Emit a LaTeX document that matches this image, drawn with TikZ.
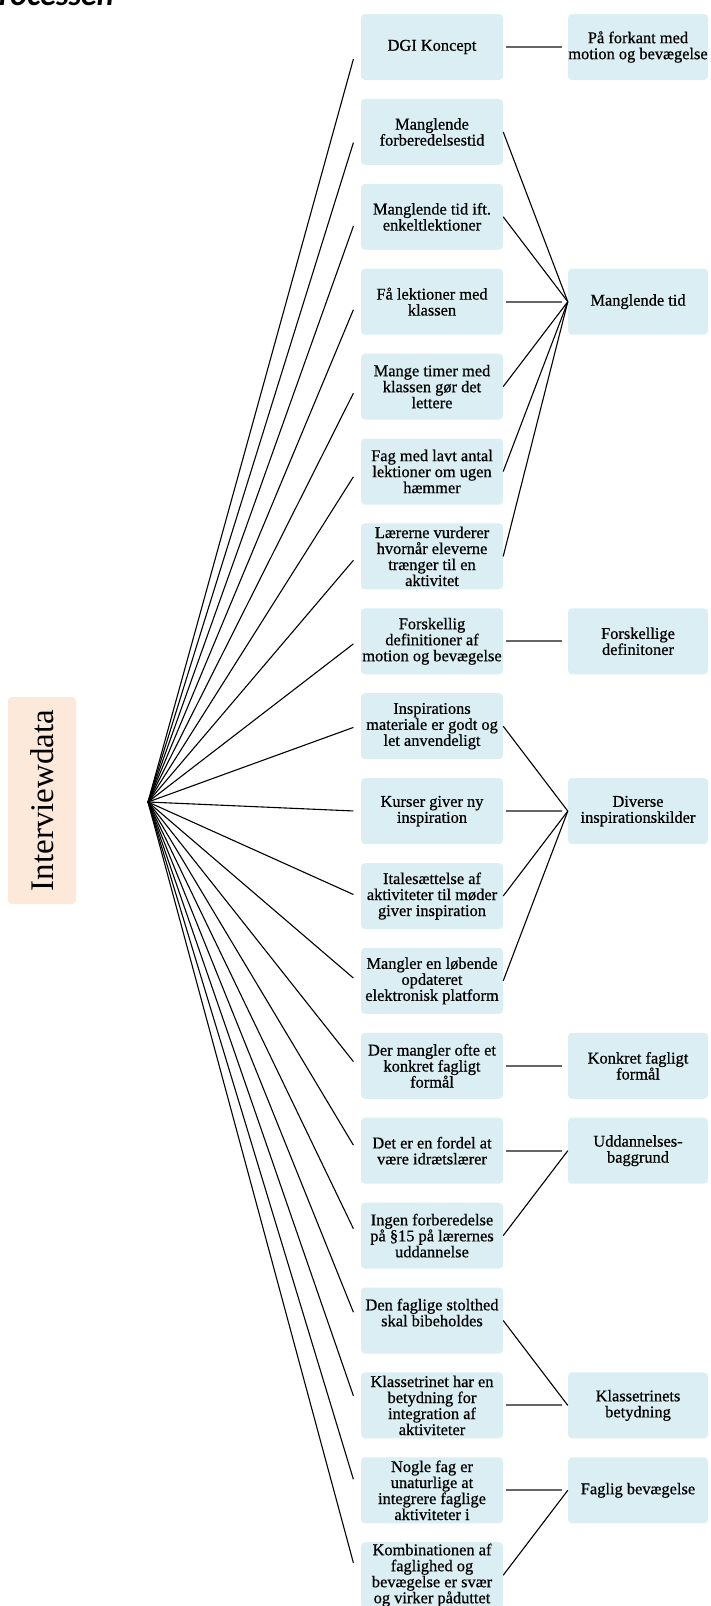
\documentclass[tikz,border=0pt]{standalone}
\usepackage{fontspec}
\setmainfont{Liberation Serif}
\newfontfamily\boxfont{Liberation Serif}[FakeBold=0.6]
\newfontfamily\titlefont{Carlito}
\usetikzlibrary{calc}
\definecolor{boxblue}{HTML}{DAEEF3}
\definecolor{boxpeach}{HTML}{FDE9D9}
\begin{document}
\begin{tikzpicture}[x=1pt,y=-1pt,
  cbox/.style={fill=boxblue, rounded corners=4pt, minimum width=142pt, minimum height=66pt,
    inner sep=0pt, align=center, font=\boxfont\fontsize{16.4}{16}\selectfont},
  tbox/.style={cbox, minimum width=140pt},
  fanline/.style={line width=1.1pt, black},
  hline/.style={line width=2pt, black!60, shorten <=3pt, shorten >=6pt},
  rootline/.style={line width=1.1pt, black}]
\useasboundingbox (0,0) rectangle (710,1606);

% title (cut off at the top edge, as in the reference)
\node[anchor=base west, inner sep=0pt, font=\titlefont\bfseries\itshape\fontsize{32}{34}\selectfont] (title) at (-1,5.5) {rocessen};

% root box
\node[fill=boxpeach, rounded corners=4pt, rotate=90, minimum width=207pt, minimum height=68pt,
  inner sep=0pt, font=\fontsize{33}{36}\selectfont] (iv) at (42,800.5) {Interviewdata};
\coordinate (root) at (148,802);

% first column
\node[cbox] (b1)  at (432, 47+0*84.9)  {DGI Koncept};
\node[cbox] (b2)  at (432, 47+1*84.9)  {Manglende\\forberedelsestid};
\node[cbox] (b3)  at (432, 47+2*84.9)  {Manglende tid ift.\\enkeltlektioner};
\node[cbox] (b4)  at (432, 47+3*84.9)  {Få lektioner med\\klassen};
\node[cbox] (b5)  at (432, 47+4*84.9)  {Mange timer med\\klassen gør det\\lettere};
\node[cbox] (b6)  at (432, 47+5*84.9)  {Fag med lavt antal\\lektioner om ugen\\hæmmer};
\node[cbox] (b7)  at (432, 47+6*84.9)  {Lærerne vurderer\\hvornår eleverne\\trænger til en\\aktivitet};
\node[cbox] (b8)  at (432, 47+7*84.9)  {Forskellig\\definitioner af\\motion og bevægelse};
\node[cbox] (b9)  at (432, 47+8*84.9)  {Inspirations\\materiale er godt og\\let anvendeligt};
\node[cbox] (b10) at (432, 47+9*84.9)  {Kurser giver ny\\inspiration};
\node[cbox] (b11) at (432, 47+10*84.9) {Italesættelse af\\aktiviteter til møder\\giver inspiration};
\node[cbox] (b12) at (432, 47+11*84.9) {Mangler en løbende\\opdateret\\elektronisk platform};
\node[cbox] (b13) at (432, 47+12*84.9) {Der mangler ofte et\\konkret fagligt\\formål};
\node[cbox] (b14) at (432, 47+13*84.9) {Det er en fordel at\\være idrætslærer};
\node[cbox] (b15) at (432, 47+14*84.9) {Ingen forberedelse\\på §15 på lærernes\\uddannelse};
\node[cbox] (b16) at (432, 47+15*84.9) {Den faglige stolthed\\skal bibeholdes\\\mbox{}};
\node[cbox] (b17) at (432, 47+16*84.9) {Klassetrinet har en\\betydning for\\integration af\\aktiviteter};
\node[cbox] (b18) at (432, 47+17*84.9) {Nogle fag er\\unaturlige at\\integrere faglige\\aktiviteter i};
\node[cbox] (b19) at (432, 47+18*84.9) {Kombinationen af\\faglighed og\\bevægelse er svær\\og virker påduttet};

% second column
\node[tbox] (p1) at (638, 47+0*84.9)  {På forkant med\\motion og bevægelse};
\node[tbox] (p2) at (638, 47+3*84.9)  {Manglende tid};
\node[tbox] (p3) at (638, 47+7*84.9)  {Forskellige\\definitoner};
\node[tbox] (p4) at (638, 47+9*84.9)  {Diverse\\inspirationskilder};
\node[tbox] (p5) at (638, 47+12*84.9) {Konkret fagligt\\formål};
\node[tbox] (p6) at (638, 47+13*84.9) {Uddannelses-\\baggrund};
\node[tbox] (p7) at (638, 47+16*84.9) {Klassetrinets\\betydning};
\node[tbox] (p8) at (638, 47+17*84.9) {Faglig bevægelse};

% fan from root
\foreach \i in {1,...,19}
  \draw[rootline] (root) -- ([xshift=-4pt]$(b\i.west)!0.016!(root)$);

% straight connectors
\draw[hline] (b1.east)  -- (p1.west);
\draw[hline] (b4.east)  -- (p2.west);
\draw[hline] (b8.east)  -- (p3.west);
\draw[hline] (b10.east) -- (p4.west);
\draw[hline] (b13.east) -- (p5.west);
\draw[hline] (b14.east) -- (p6.west);
\draw[hline] (b17.east) -- (p7.west);
\draw[hline] (b18.east) -- (p8.west);

% converging connectors
\foreach \i in {2,3,5,6,7} \draw[fanline] (b\i.east) -- (p2.west);
\foreach \i in {9,11,12} \draw[fanline] (b\i.east) -- (p4.west);
\draw[fanline] (b15.east) -- (p6.west);
\draw[fanline] (b16.east) -- (p7.west);
\draw[fanline] (b19.east) -- (p8.west);
\end{tikzpicture}
\end{document}
